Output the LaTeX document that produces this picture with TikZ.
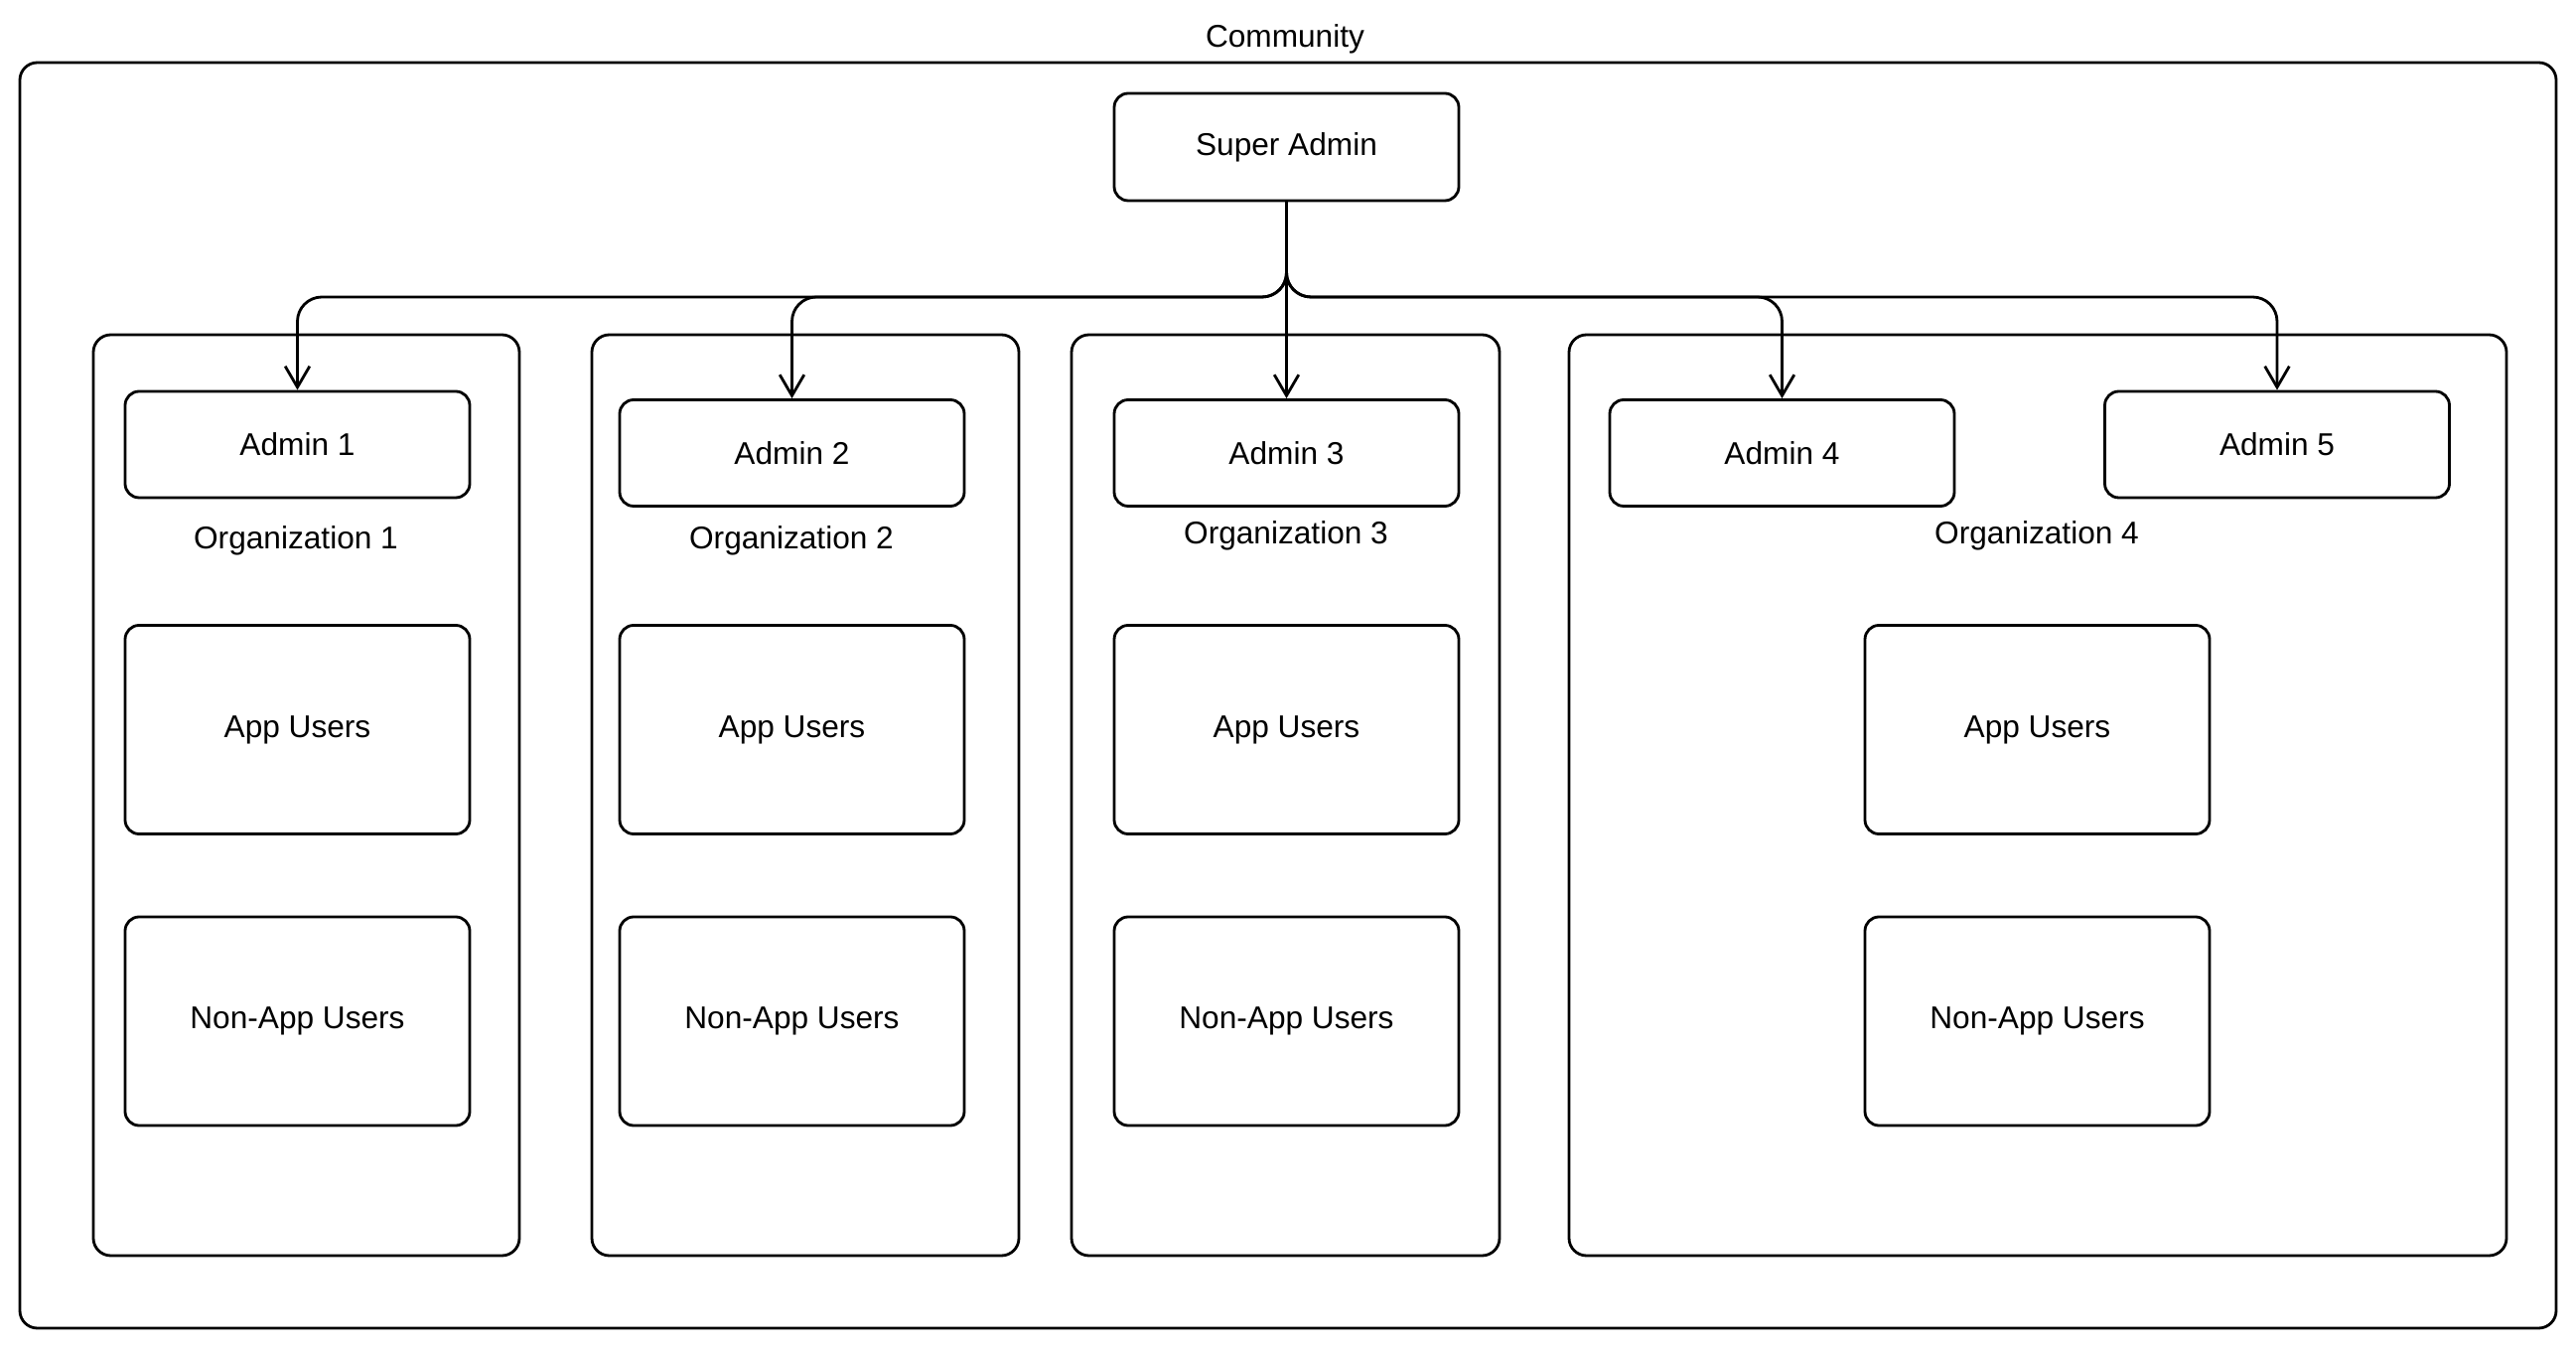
\documentclass[tikz,border=0pt]{standalone}
\usepackage{fontspec}
\setmainfont{Liberation Sans}
\usetikzlibrary{arrows.meta}

\begin{document}
\begin{tikzpicture}[
    line width=0.8pt,
    every node/.style={font=\fontsize{9}{11}\selectfont},
    caja/.style={draw, rounded corners=4pt, minimum width=3.47cm, minimum height=1.07cm, inner sep=0pt},
    grupo/.style={draw, rounded corners=4pt, minimum width=3.47cm, minimum height=2.1cm, inner sep=0pt},
    org/.style={draw, rounded corners=5pt, minimum height=9.27cm, inner sep=0pt},
    flecha/.style={-{Straight Barb[length=6pt, width=7pt]}, rounded corners=7pt}
]
    \useasboundingbox (0,0) rectangle (25.94,13.59);

    % Comunidad
    \node[draw, rounded corners=5pt, minimum width=25.54cm, minimum height=12.74cm, inner sep=0pt] (com) at (12.97, 6.59) {};
    \node (comlbl) at (12.94, 13.2) {Community};

    % Super Admin
    \node[caja, minimum height=1.08cm] (super) at (12.955, 12.11) {Super Admin};

    % Organizaciones
    \node[org, minimum width=4.29cm] (o1) at (3.085, 5.585) {};
    \node[org, minimum width=4.30cm] (o2) at (8.11, 5.585) {};
    \node[org, minimum width=4.31cm] (o3) at (12.945, 5.585) {};
    \node[org, minimum width=9.44cm] (o4) at (20.52, 5.585) {};

    % Administradores
    \node[caja] (a1) at (2.995, 9.115) {Admin 1};
    \node[caja] (a2) at (7.975, 9.03) {Admin 2};
    \node[caja] (a3) at (12.955, 9.03) {Admin 3};
    \node[caja] (a4) at (17.945, 9.03) {Admin 4};
    \node[caja] (a5) at (22.93, 9.115) {Admin 5};

    % Etiquetas de las organizaciones
    \node (l1) at (2.98, 8.15) {Organization 1};
    \node (l2) at (7.97, 8.15) {Organization 2};
    \node (l3) at (12.95, 8.2) {Organization 3};
    \node (l4) at (20.51, 8.2) {Organization 4};

    % Usuarios
    \foreach \n/\x in {1/2.995, 2/7.975, 3/12.955, 4/20.515} {
        \node[grupo] (app\n) at (\x, 6.245) {App Users};
        \node[grupo] (non\n) at (\x, 3.31) {Non-App Users};
    }

    % Flechas desde el Super Admin
    \coordinate (bus) at (0, 10.6);
    \foreach \a in {a1, a2, a4, a5}
        \draw[flecha] (super.south) -- (super.south |- bus) -| (\a.north);
    \draw[flecha] (super.south) -- (a3.north);
\end{tikzpicture}
\end{document}
